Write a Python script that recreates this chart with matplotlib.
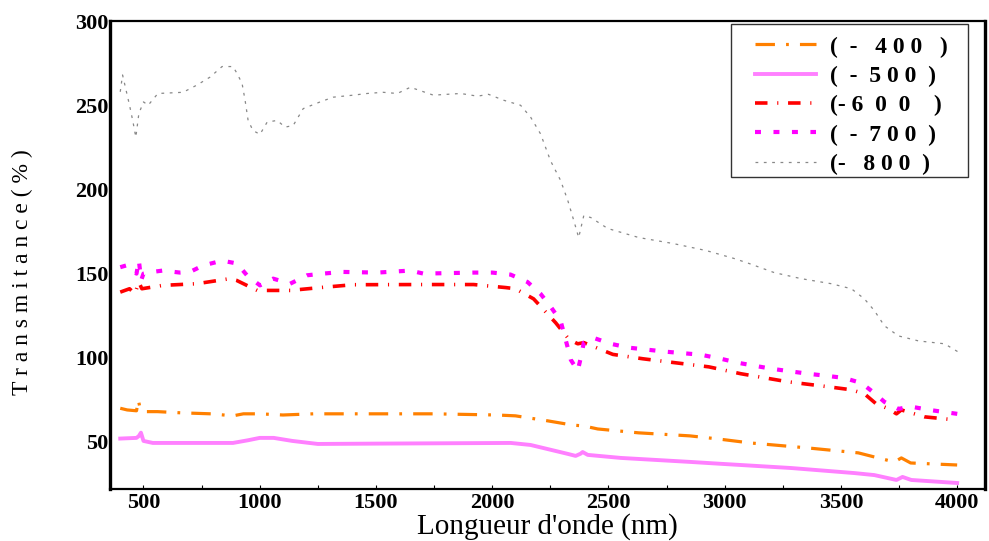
import numpy as np
import matplotlib
matplotlib.use("Agg")
import matplotlib.pyplot as plt
from matplotlib.patches import Rectangle
from matplotlib.ticker import MultipleLocator

# wavelengths (nm) and transmittance (%)
w400 = [400, 430, 470, 478, 485, 500, 560, 660, 790, 885, 930, 1000, 1100, 1230, 1550, 1750,
        2020, 2100, 2240, 2346, 2394, 2454, 2630, 2850, 2970, 3110, 3360, 3575, 3660, 3730,
        3760, 3800, 4000]
t400 = [70, 69, 68.5, 75, 70, 68, 68, 67.3, 66.7, 65.5, 66.7, 66.7, 66, 66.7, 66.7, 66.7,
        66, 65.5, 62.5, 60, 59.5, 57.7, 55.4, 53.6, 51.8, 49.4, 46.4, 43.5, 40.5, 38.1,
        40.5, 37.5, 36.3]

w500 = [400, 470, 480, 489, 500, 540, 740, 885, 950, 1000, 1060, 1140, 1250, 1500, 2080,
        2165, 2325, 2359, 2380, 2389, 2411, 2553, 2855, 2984, 3286, 3558, 3644, 3739, 3765,
        3803, 4000]
t500 = [52, 52.4, 53.5, 55.5, 50.6, 49.4, 49.4, 49.4, 51, 52.4, 52.4, 50.6, 48.8, 49, 49.4,
        48.2, 42.9, 41.7, 43, 44, 42.3, 40.5, 38.1, 37, 34.5, 31.5, 30.3, 27.4, 29.2,
        27.4, 25.6]

w600 = [400, 440, 463, 480, 493, 583, 730, 872, 900, 989, 1131, 1260, 1402, 1700, 1920,
        2058, 2100, 2178, 2273, 2330, 2368, 2394, 2519, 2648, 2790, 2932, 3070, 3273, 3415,
        3544, 3601, 3652, 3700, 3739, 3760, 3860, 3997]
t600 = [139, 141, 138, 145, 141, 143, 144, 147, 146, 140, 140, 141.7, 143.4, 143.5, 143.5,
        141.7, 141, 135, 120.8, 111, 108.3, 109, 102, 99.4, 97, 94.6, 90.5, 85.7, 83.3,
        81, 78.6, 72.6, 70, 66.7, 69, 64.9, 63]

w700 = [400, 430, 470, 480, 490, 500, 527, 583, 657, 700, 756, 838, 902, 945, 1001, 1058,
        1131, 1204, 1273, 1355, 1506, 1648, 1704, 1920, 2001, 2079, 2152, 2208, 2251, 2294,
        2325, 2338, 2368, 2381, 2394, 2432, 2510, 2588, 2747, 2898, 2984, 3058, 3200, 3359,
        3437, 3514, 3588, 3644, 3687, 3747, 3800, 3881, 4010]
t700 = [153.8, 155, 150, 158, 146, 150, 150.8, 151.8, 150.6, 151, 154.8, 157.7, 156, 149,
        143, 147, 144, 149, 150, 151, 150.6, 151.8, 150, 150.6, 150.6, 149.4, 145, 138,
        130.4, 122, 106, 98.8, 92.3, 100, 109, 112, 108.3, 106, 103.6, 101.8, 99.4, 97,
        93.5, 90.5, 89.3, 88, 85, 79, 73.8, 69.6, 71, 69, 66.5]

w800 = [400, 410, 420, 440, 455, 467, 480, 500, 520, 562, 670, 730, 786, 838, 885, 902,
        924, 937, 950, 971, 1001, 1032, 1075, 1109, 1144, 1187, 1260, 1316, 1402, 1462,
        1531, 1592, 1648, 1747, 1864, 1937, 1984, 2049, 2122, 2165, 2208, 2251, 2294, 2325,
        2351, 2372, 2394, 2424, 2497, 2631, 2777, 2920, 3040, 3105, 3213, 3329, 3458, 3545,
        3601, 3644, 3687, 3747, 3834, 3946, 4010]
t800 = [258, 268, 262, 250, 240, 231, 245, 252, 250, 257, 257.7, 262, 266.7, 273, 273, 269,
        263, 253, 241, 235, 232.7, 240, 241, 237, 238, 248, 252, 254.8, 256, 257,
        257.7, 257, 260.7, 256, 257, 255.4, 256.5, 253, 250, 243, 233, 217, 205.4, 193.5,
        181.5, 171.4, 184.5, 183.3, 176.8, 171.4, 167.9, 163.7, 159, 156, 150.6, 147, 144, 141,
        135, 128, 119, 113, 110, 108.3, 103]

labels = ["(  -   4 0 0   )", "(  -  5 0 0  )", "(- 6  0  0    )", "(  -  7 0 0  )",
          "(-   8 0 0  )"]

plt.rcParams["font.family"] = ["Liberation Serif", "DejaVu Serif"]
plt.rcParams["lines.scale_dashes"] = False

fig = plt.figure(figsize=(9.89, 5.41), dpi=100)
ax = fig.add_axes([0.111, 0.096, 0.885, 0.865])

ax.plot(w400, t400, color="#FF8000", lw=2.3, dashes=(14, 8, 2, 8), label=labels[0])
ax.plot(w500, t500, color="#FF80FF", lw=2.8, label=labels[1])
ax.plot(w600, t600, color="#FF0000", lw=2.6, dashes=(9, 7, 0.8, 7), label=labels[2])
ax.plot(w700, t700, color="#FF00FF", lw=3.0, dashes=(4.3, 9), label=labels[3])
ax.plot(w800, t800, color="#888888", lw=0.9, dashes=(2, 4), label=labels[4])

ax.set_xlim(355, 4120)
ax.set_ylim(22, 300)
ax.xaxis.set_major_locator(MultipleLocator(500))
ax.xaxis.set_minor_locator(MultipleLocator(250))
ax.set_yticks([50, 100, 150, 200, 250, 300])

ax.tick_params(axis="x", which="both", direction="in", length=3, width=0.8, pad=3,
               labelsize=16)
ax.tick_params(axis="y", which="both", length=0, pad=1, labelsize=16)
for lab in ax.get_xticklabels() + ax.get_yticklabels():
    lab.set_fontweight("bold")

ax.spines["left"].set_linewidth(2.4)
ax.spines["bottom"].set_linewidth(1.6)
ax.spines["top"].set_linewidth(1.6)
ax.spines["right"].set_linewidth(2.4)

ax.set_xlabel("Longueur d'onde (nm)", fontsize=21, labelpad=0)
ax.set_ylabel("T r a n s m i t a n c e ( % )", fontsize=17)
ax.yaxis.set_label_coords(-0.088, 0.464)

# legend frame drawn separately so the inner padding can match
ax.add_patch(Rectangle((0.71, 0.667), 0.271, 0.327, transform=ax.transAxes,
                       facecolor="white", edgecolor="#333333", lw=1.0, zorder=4))
leg = ax.legend(loc="upper left", bbox_to_anchor=(0.737, 0.968), borderaxespad=0,
                frameon=False,
                prop={"family": "Liberation Serif", "weight": "bold", "size": 17},
                handlelength=2.6, handletextpad=0.6, labelspacing=0.33,
                borderpad=0, handleheight=0.7)
leg.set_zorder(5)

fig.savefig("out.png", dpi=100)
